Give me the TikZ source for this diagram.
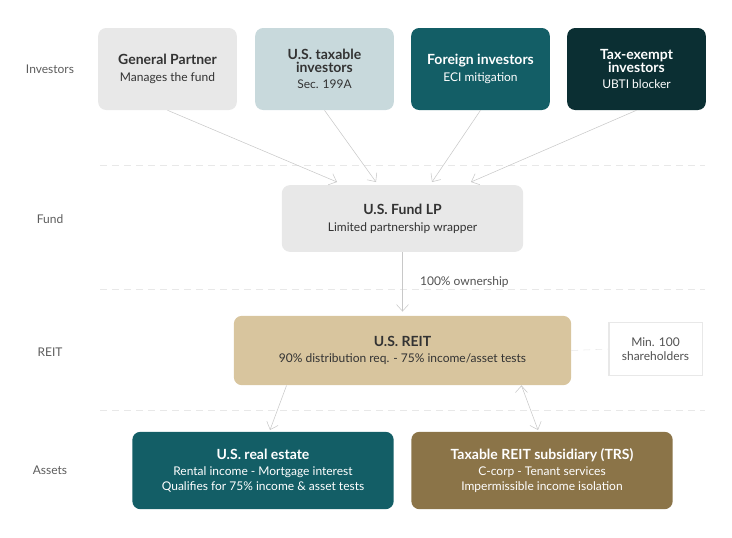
\documentclass[tikz,border=0pt]{standalone}
\usepackage{fontspec}
\setmainfont{Lato}
\usetikzlibrary{positioning, arrows.meta, calc}
\definecolor{lightbox}{HTML}{E8E8E8}
\definecolor{bluebox}{HTML}{C8D9DC}
\definecolor{tealbox}{HTML}{135E66}
\definecolor{darkbox}{HTML}{0B2F33}
\definecolor{sandbox}{HTML}{D8C59E}
\definecolor{brownbox}{HTML}{8B7448}
\definecolor{ink}{HTML}{333333}
\definecolor{arrowgray}{HTML}{C8C8C8}
\newcommand{\boxtitle}[1]{\textbf{\fontsize{10.5}{12}\selectfont #1}}

\begin{document}
\begin{tikzpicture}[x=0.75pt, y=-0.75pt, node font=\fontsize{9}{11}\selectfont,
	box/.style={rounded corners=6pt, inner sep=2pt, align=center, text=ink},
	layer/.style={text=ink!80, font=\fontsize{9}{11}\selectfont},
	sep/.style={draw=lightbox, dashed, dash pattern=on 5pt off 4pt},
	link/.style={draw=arrowgray, -{Straight Barb[length=5pt, width=9pt]}}]
	\useasboundingbox (0,0) rectangle (732,537);
	
	% layer labels
	\node[layer] (lInv) at (50,69) {Investors};
	\node[layer] (lFund) at (50,219) {Fund};
	\node[layer] (lReit) at (50,352) {REIT};
	\node[layer] (lAss) at (50,470) {Assets};
	
	\draw[sep] (100,165) -- (705,165);
	\draw[sep] (100,289) -- (705,289);
	\draw[sep] (100,410) -- (705,410);
	
	% investors
	\node[box, fill=lightbox, minimum width=104pt, minimum height=61.5pt] (gp) at (167.5,69)
		{\boxtitle{General Partner}\\[2pt]Manages the fund};
	\node[box, fill=bluebox, minimum width=104pt, minimum height=61.5pt] (ustax) at (324.5,69)
		{\boxtitle{U.S. taxable}\\[-1pt]\boxtitle{investors}\\[1pt]Sec. 199A};
	\node[box, fill=tealbox, text=white, minimum width=104pt, minimum height=61.5pt] (foreign) at (480.5,69)
		{\boxtitle{Foreign investors}\\[2pt]ECI mitigation};
	\node[box, fill=darkbox, text=white, minimum width=104pt, minimum height=61.5pt] (exempt) at (636.5,69)
		{\boxtitle{Tax-exempt}\\[-1pt]\boxtitle{investors}\\[1pt]UBTI blocker};
	
	% fund
	\node[box, fill=lightbox, minimum width=181pt, minimum height=50pt] (fund) at (402.5,218.5)
		{\boxtitle{U.S. Fund LP}\\[2pt]Limited partnership wrapper};
	\coordinate (in1) at (337,182);
	\coordinate (in2) at (376,182);
	\coordinate (in3) at (432,182);
	\coordinate (in4) at (471,182);
	
	% reit
	\node[box, fill=sandbox, minimum width=253pt, minimum height=52pt] (reit) at (402.5,350.5)
		{\boxtitle{U.S. REIT}\\[1pt]90\% distribution req. - 75\% income/asset tests};
	\node[draw=lightbox, line width=1pt, fill=white, align=center, text=ink!85, minimum width=70pt, minimum height=40pt] (minShare) at (655.5,349)
		{Min. 100\\shareholders};
	
	% assets
	\node[box, fill=tealbox, text=white, minimum width=196pt, minimum height=58pt] (estate) at (263,470.5)
		{\boxtitle{U.S. real estate}\\[1pt]Rental income - Mortgage interest\\Qualifies for 75\% income \& asset tests};
	\node[box, fill=brownbox, text=white, minimum width=196pt, minimum height=58pt] (trs) at (542,470.5)
		{\boxtitle{Taxable REIT subsidiary (TRS)}\\[1pt]C-corp - Tenant services\\Impermissible income isolation};
	\coordinate (toEstate) at (270,430);
	\coordinate (toTrs) at (538,430);
	
	\path[link] (gp.south) edge (in1)
	(ustax.south) edge (in2)
	(foreign.south) edge (in3)
	(exempt.south) edge (in4)
	(fund.south) edge node[right=10pt, text=ink!85] {100\% ownership} ($(reit.north)+(0,-4)$)
	($(reit.south west)+(53,0)$) edge (toEstate)
	($(reit.south east)+(-50,0)$) edge (toTrs)
	;
	\draw[sep] (reit.east) -- (minShare.west);
	
\end{tikzpicture}
\end{document}
